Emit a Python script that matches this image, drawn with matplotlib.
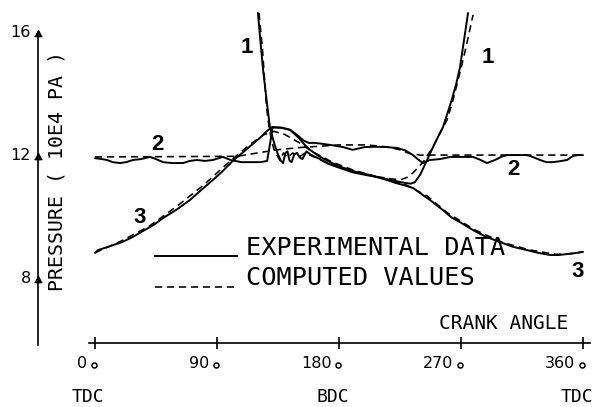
import matplotlib
matplotlib.use("Agg")
import matplotlib.pyplot as plt

# ---------------- data (crank angle in degrees, pressure in 10E4 Pa) ----------------
exp1_angle = [120.2, 122, 124, 126.5, 129, 131, 133, 135, 137, 138.7, 140.5, 142, 143.5, 145,
              147, 149, 151, 153, 156, 159, 162, 166, 172, 180, 190, 200, 210, 220, 228, 233,
              236, 240, 245, 250, 256.7, 263, 266.5, 269.3, 272, 275.2]
exp1_p = [16.65, 15.75, 14.8, 13.85, 12.95, 12.6, 12.3, 12.05, 11.85, 11.77, 12.1, 12.15, 11.85,
          11.8, 12.05, 12.1, 11.95, 11.9, 12.15, 12.05, 11.98, 11.9, 11.75, 11.62, 11.47, 11.38,
          11.3, 11.2, 11.13, 11.1, 11.15, 11.4, 11.87, 12.35, 12.94, 13.8, 14.35, 14.89, 15.7, 16.65]

comp1_angle = [121, 123.5, 126.5, 128.5, 130.5, 132.5, 134.5, 136.5, 139, 142, 146, 150, 155, 160,
               165, 175, 190, 205, 215, 225, 230, 234.6, 242, 249.3, 254, 259.7, 264, 268, 271.5,
               275, 278.9]
comp1_p = [16.65, 15.5, 13.6, 12.9, 12.45, 12.15, 12.0, 11.85, 12.1, 11.95, 12.1, 11.95, 12.1,
           12.0, 11.9, 11.7, 11.5, 11.35, 11.28, 11.22, 11.3, 11.45, 11.8, 12.29, 12.7, 13.17,
           13.8, 14.5, 15.12, 15.8, 16.59]

exp2_angle = [0, 5, 8.9, 13, 18.4, 23, 28, 34, 40.6, 45, 50.2, 57, 64.9, 70, 75.2, 81, 87, 94.4,
              100, 108, 116, 122, 127, 129.5, 131, 138, 144, 150, 154, 158, 161, 167, 175, 183,
              190, 195, 199, 207, 215, 223, 229, 234.6, 238, 241.9, 247, 254.5, 262, 270, 278.9,
              284, 289.2, 295.1, 300, 304, 311, 318.7, 324, 328.3, 333, 337.9, 343, 348.2, 352.6,
              356, 360]
exp2_p = [11.93, 11.9, 11.87, 11.8, 11.77, 11.8, 11.87, 11.9, 11.97, 11.9, 11.8, 11.77, 11.77,
          11.84, 11.87, 11.84, 11.87, 11.97, 11.87, 11.8, 11.8, 11.8, 11.84, 12.5, 12.93, 12.92,
          12.85, 12.65, 12.5, 12.42, 12.43, 12.4, 12.35, 12.29, 12.2, 12.25, 12.29, 12.3, 12.29,
          12.26, 12.18, 12.03, 11.9, 11.77, 11.87, 11.9, 11.97, 11.97, 11.97, 11.88, 11.77,
          11.87, 11.98, 12.03, 12.03, 12.03, 11.95, 11.87, 11.8, 11.8, 11.83, 11.87, 12.0,
          12.03, 12.03]

comp2_angle = [0, 60, 105, 120, 134, 150, 160, 180, 200, 215, 225, 232, 240, 300, 360]
comp2_p = [11.97, 11.98, 11.99, 12.1, 12.2, 12.27, 12.3, 12.36, 12.36, 12.3, 12.2, 12.08, 12.03,
           12.03, 12.03]

exp3_angle = [0, 2.2, 10, 20, 28, 35, 43, 50.2, 60, 70.1, 78, 87, 94, 101.8, 110, 121.7, 126,
              130.6, 137, 144, 150, 155, 158.6, 165, 173.4, 180, 188.1, 195, 202.9, 209, 215.4,
              222, 228, 234.6, 241.9, 247.1, 252, 256.7, 263, 270, 278.9, 288, 298.8, 308, 318.7,
              327, 335.7, 342, 348.2, 354, 360]
exp3_p = [8.85, 8.94, 9.05, 9.2, 9.37, 9.55, 9.75, 9.98, 10.25, 10.57, 10.88, 11.22, 11.5, 11.85,
          12.15, 12.59, 12.78, 12.94, 12.92, 12.85, 12.6, 12.35, 12.2, 12.0, 11.8, 11.67, 11.54,
          11.45, 11.38, 11.3, 11.22, 11.12, 11.05, 10.96, 10.73, 10.57, 10.4, 10.24, 10.0, 9.83,
          9.59, 9.38, 9.2, 9.05, 8.94, 8.85, 8.78, 8.78, 8.81, 8.84, 8.88]

comp3_angle = [0, 20, 40, 60, 80, 100, 115, 125, 132, 140, 150, 160, 175, 190, 210, 230, 245,
               260, 280, 300, 320, 340, 350, 360]
comp3_p = [8.85, 9.25, 9.72, 10.35, 11.05, 11.85, 12.4, 12.7, 12.8, 12.7, 12.45, 12.15, 11.8,
           11.55, 11.3, 11.05, 10.7, 10.15, 9.6, 9.2, 8.95, 8.8, 8.82, 8.88]

x_ticks = [0, 90, 180, 270, 360]
x_tick_labels = ["0", "90", "180", "270", "360"]
y_ticks = [8, 12, 16]
y_tick_labels = ["8", "12", "16"]
curve_labels = ["1", "1", "2", "2", "3", "3"]

# ---------------- figure ----------------
fig = plt.figure(figsize=(5.97, 4.07), dpi=100)
ax = fig.add_axes([0, 0, 1, 1])
ax.set_xlim(-70.08, 370.33)
ax.set_ylim(3.837, 17.073)
ax.axis("off")


def X(px):
    return (px - 95) * 90 / 122


def Y(py):
    return 8 + (279 - py) / 30.75


solid = dict(color="black", lw=1.4, solid_capstyle="round")
dashed = dict(color="black", lw=1.15, linestyle=(0, (4.5, 3)))

for a, p in [(exp1_angle, exp1_p), (exp2_angle, exp2_p), (exp3_angle, exp3_p)]:
    ax.plot(a, p, **solid)
for a, p in [(comp1_angle, comp1_p), (comp2_angle, comp2_p), (comp3_angle, comp3_p)]:
    ax.plot(a, p, **dashed)

# axes
ax.plot([X(38), X(38)], [16, Y(345)], color="black", lw=1.2)
ax.plot([X(89), X(590)], [Y(343), Y(343)], color="black", lw=1.2)
ax.plot(x_ticks, [Y(343)] * len(x_ticks), linestyle="none", marker="|",
        markersize=9, mew=1.2, color="black")
ax.plot([X(38)] * len(y_ticks), y_ticks, linestyle="none", marker="^",
        markersize=5, color="black")
ax.plot([X(38)] * len(y_ticks), [t - 0.1 for t in y_ticks], linestyle="none", marker="_",
        markersize=6, mew=1.0, color="black")

mono = "DejaVu Sans Mono"
for t, lab in zip(y_ticks, y_tick_labels):
    ax.text(X(31), t - 0.13, lab, ha="right", va="baseline", fontsize=11.5,
            family="DejaVu Sans")
for t, lab in zip(x_ticks, x_tick_labels):
    ax.text(t - 5.5, Y(368), lab, ha="right", va="baseline", fontsize=11.5,
            family="DejaVu Sans")
ax.plot([t - 0.8 for t in x_ticks], [Y(365.5)] * len(x_ticks), linestyle="none",
        marker="o", markersize=3.6, mfc="white", mec="black", mew=1.1)

ax.text(X(57.5), Y(171), "PRESSURE ( 10E4 PA )", rotation=90, ha="center",
        va="center", fontsize=14.3, family=mono)
ax.text(X(504), Y(324), "CRANK ANGLE", ha="center", va="center", fontsize=14, family=mono)
ax.text(X(88), Y(397), "TDC", ha="center", va="center", fontsize=13, family=mono)
ax.text(X(333), Y(397), "BDC", ha="center", va="center", fontsize=13, family=mono)
ax.text(X(577), Y(397), "TDC", ha="center", va="center", fontsize=13, family=mono)

# legend
ax.plot([X(155), X(237)], [Y(256), Y(256)], color="black", lw=1.4)
ax.plot([X(155), X(237)], [Y(287), Y(287)], **dashed)
ax.text(X(246), Y(248), "EXPERIMENTAL DATA", ha="left", va="center", fontsize=18.2,
        family=mono)
ax.text(X(246), Y(278), "COMPUTED VALUES", ha="left", va="center", fontsize=18.2,
        family=mono)

# curve numbers
label_pos = [(X(247), Y(48)), (X(488), Y(58)), (X(157), Y(145)), (X(513), Y(170)),
             (X(140), Y(218)), (X(578), Y(272))]
for (lx, ly), lab in zip(label_pos, curve_labels):
    ax.text(lx, ly, lab, ha="center", va="center", fontsize=16, fontweight="bold",
            family="Liberation Sans")

fig.savefig("out.png", dpi=100)
